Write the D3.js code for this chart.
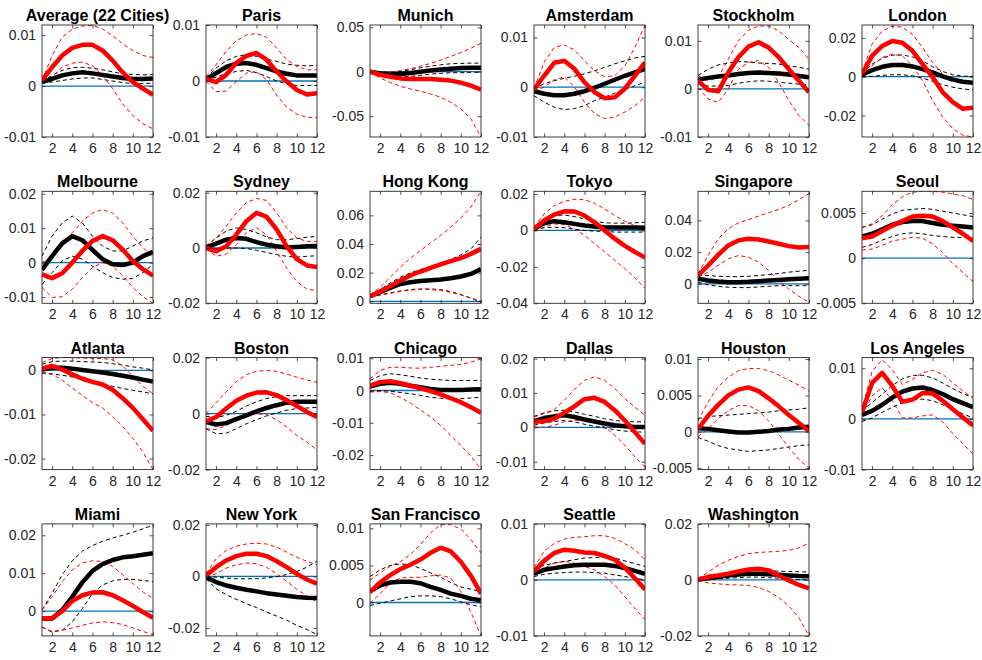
<!DOCTYPE html>
<html>
<head>
<meta charset="utf-8">
<script src="https://cdn.jsdelivr.net/npm/d3@7"></script>
<style>
  html, body { margin: 0; padding: 0; background: #fff; }
  svg { display: block; }
</style>
</head>
<body>
<svg id="chart" width="982" height="660"></svg>
<script>
// Horizons on the x axis
const steps = [1, 2, 3, 4, 5, 6, 7, 8, 9, 10, 11, 12];
const xTicks = [2, 4, 6, 8, 10, 12];

const cities = [
  "Average (22 Cities)", "Paris", "Munich", "Amsterdam", "Stockholm", "London",
  "Melbourne", "Sydney", "Hong Kong", "Tokyo", "Singapore", "Seoul",
  "Atlanta", "Boston", "Chicago", "Dallas", "Houston", "Los Angeles",
  "Miami", "New York", "San Francisco", "Seattle", "Washington"
];

// Black response: point estimate and band
const blackMid = [
  [0.0008,0.0014,0.0021,0.0025,0.0027,0.0025,0.0022,0.0019,0.0016,0.0014,0.0014,0.0015],
  [0.0003,0.0014,0.0025,0.0031,0.0032,0.0029,0.0023,0.0017,0.0013,0.0010,0.0010,0.0010],
  [0,-0.0019,-0.0030,-0.0026,-0.0015,0,0.0015,0.0026,0.0034,0.0041,0.0045,0.0045],
  [-0.0008,-0.0013,-0.0016,-0.0016,-0.0013,-0.0008,-0.0001,0.0007,0.0015,0.0023,0.0030,0.0037],
  [0.0019,0.0023,0.0026,0.0028,0.0031,0.0033,0.0034,0.0033,0.0032,0.0030,0.0027,0.0024],
  [0.0010,0.0034,0.0051,0.0060,0.0060,0.0053,0.0039,0.0022,0.0002,-0.0015,-0.0026,-0.0031],
  [-0.0021,0.0019,0.0056,0.0077,0.0065,0.0037,0.0010,-0.0005,-0.0007,0,0.0019,0.0031],
  [0.0002,0.0016,0.0030,0.0036,0.0033,0.0021,0.0012,0.0006,0.0002,0.0004,0.0006,0.0007],
  [0.0035,0.0063,0.0093,0.0121,0.0133,0.0142,0.0147,0.0152,0.0161,0.0173,0.0191,0.0226],
  [0.0009,0.0040,0.0051,0.0045,0.0036,0.0027,0.0022,0.0018,0.0016,0.0016,0.0016,0.0015],
  [0.0032,0.0021,0.0015,0.0011,0.0011,0.0013,0.0017,0.0021,0.0025,0.0029,0.0032,0.0036],
  [0.0024,0.0027,0.0032,0.0037,0.0040,0.0041,0.0041,0.0039,0.0037,0.0036,0.0035,0.0034],
  [0.0002,0.0006,0.0006,0.0004,0.0001,-0.0002,-0.0005,-0.0008,-0.0012,-0.0016,-0.0021,-0.0025],
  [-0.0030,-0.0039,-0.0034,-0.0020,-0.0006,0.0008,0.0020,0.0030,0.0039,0.0042,0.0042,0.0042],
  [0.0012,0.0021,0.0024,0.0021,0.0015,0.0010,0.0005,0.0002,0.0002,0.0002,0.0003,0.0004],
  [0.0018,0.0027,0.0032,0.0035,0.0030,0.0023,0.0017,0.0011,0.0006,0.0003,0.0001,0.0001],
  [0.0005,0.0004,0.0002,0.00005,-0.0001,-0.0001,0,0.0001,0.0003,0.0004,0.0006,0.0007],
  [0.0008,0.0016,0.0028,0.0042,0.0054,0.0060,0.0062,0.0057,0.0049,0.0039,0.0031,0.0023],
  [-0.0019,-0.0019,0.0003,0.0038,0.0076,0.0106,0.0124,0.0135,0.0142,0.0145,0.0149,0.0153],
  [-0.0003,-0.0022,-0.0035,-0.0044,-0.0052,-0.0058,-0.0065,-0.0070,-0.0075,-0.0080,-0.0083,-0.0084],
  [0.0015,0.0023,0.0027,0.0028,0.0028,0.0026,0.0021,0.0017,0.0012,0.0009,0.0005,0.0003],
  [0.0011,0.0018,0.0021,0.0024,0.0026,0.0027,0.0027,0.0027,0.0025,0.0021,0.0016,0.0011],
  [0.0001,0.0006,0.0011,0.0016,0.0019,0.0022,0.0022,0.0020,0.0018,0.0016,0.0014,0.0013]
];
const blackHi = [
  [0.0008,0.0021,0.0031,0.0036,0.0037,0.0035,0.0032,0.0028,0.0024,0.0023,0.0022,0.0023],
  [0.0005,0.0023,0.0036,0.0044,0.0047,0.0044,0.0039,0.0035,0.0030,0.0028,0.0027,0.0028],
  [0,-0.0004,-0.0004,0.0004,0.0022,0.0045,0.0063,0.0078,0.0090,0.0093,0.0097,0.0097],
  [-0.0003,0.0007,0.0013,0.0018,0.0022,0.0027,0.0033,0.0040,0.0047,0.0053,0.0059,0.0062],
  [0.0028,0.0041,0.0050,0.0054,0.0057,0.0056,0.0054,0.0053,0.0052,0.0048,0.0045,0.0041],
  [0.0014,0.0065,0.0095,0.0111,0.0112,0.0102,0.0082,0.0051,0.0027,0.0010,0.0003,0.0002],
  [0.0019,0.0077,0.0115,0.0135,0.0115,0.0077,0.0048,0.0034,0.0034,0.0048,0.0063,0.0072],
  [0.0006,0.0036,0.0061,0.0073,0.0067,0.0055,0.0040,0.0030,0.0030,0.0034,0.0039,0.0042],
  [0.0040,0.0082,0.0128,0.0168,0.0198,0.0222,0.0243,0.0266,0.0292,0.0324,0.0366,0.0448],
  [0.0018,0.0064,0.0082,0.0085,0.0076,0.0064,0.0051,0.0042,0.0040,0.0040,0.0042,0.0045],
  [0.0053,0.0053,0.0048,0.0046,0.0046,0.0048,0.0053,0.0059,0.0065,0.0074,0.0080,0.0086],
  [0.0034,0.0037,0.0043,0.0049,0.0053,0.0054,0.0055,0.0054,0.0052,0.0050,0.0048,0.0046],
  [0.0014,0.0020,0.0021,0.0021,0.0020,0.0019,0.0018,0.0015,0.0012,0.0008,0.0005,0.0001],
  [-0.0010,-0.0014,-0.0006,0.0008,0.0027,0.0042,0.0054,0.0060,0.0064,0.0064,0.0064,0.0064],
  [0.0031,0.0046,0.0052,0.0049,0.0044,0.0039,0.0035,0.0033,0.0031,0.0031,0.0031,0.0031],
  [0.0032,0.0042,0.0048,0.0050,0.0045,0.0038,0.0032,0.0025,0.0020,0.0017,0.0016,0.0016],
  [0.0018,0.0021,0.0022,0.0023,0.0024,0.0025,0.0026,0.0027,0.0029,0.0030,0.0031,0.0033],
  [0.0016,0.0032,0.0049,0.0066,0.0079,0.0086,0.0086,0.0081,0.0071,0.0060,0.0050,0.0042],
  [0.0003,0.0047,0.0096,0.0133,0.0158,0.0173,0.0184,0.0193,0.0200,0.0208,0.0217,0.0227],
  [0,-0.0003,-0.0006,-0.0009,-0.0009,-0.0009,-0.0006,-0.0001,0.0008,0.0019,0.0036,0.0059],
  [0.0035,0.0044,0.0050,0.0052,0.0051,0.0046,0.0040,0.0034,0.0027,0.0021,0.0018,0.0015],
  [0.0018,0.0026,0.0030,0.0033,0.0036,0.0039,0.0040,0.0040,0.0039,0.0034,0.0029,0.0024],
  [0.0004,0.0012,0.0019,0.0025,0.0030,0.0034,0.0034,0.0034,0.0031,0.0030,0.0029,0.0028]
];
const blackLo = [
  [0.0008,0.0008,0.0011,0.0014,0.0016,0.0016,0.0013,0.0010,0.0007,0.0005,0.0005,0.0006],
  [0.0002,0.0007,0.0013,0.0017,0.0019,0.0015,0.0008,0,-0.0005,-0.0008,-0.0008,-0.0008],
  [0,-0.0034,-0.0056,-0.0060,-0.0052,-0.0041,-0.0026,-0.0019,-0.0011,-0.0011,-0.0007,-0.0007],
  [-0.0017,-0.0030,-0.0040,-0.0045,-0.0043,-0.0037,-0.0027,-0.0020,-0.0012,-0.0005,0.0003,0.0010],
  [0.0010,0.0006,0.0006,0.0007,0.0012,0.0015,0.0017,0.0016,0.0014,0.0012,0.0010,0.0009],
  [0,0.0002,0.0007,0.0010,0.0010,0.0005,-0.0007,-0.0024,-0.0041,-0.0054,-0.0063,-0.0068],
  [-0.0063,-0.0029,0.0005,0.0019,0.0010,-0.0010,-0.0029,-0.0043,-0.0048,-0.0046,-0.0029,-0.0005],
  [0,-0.0002,0,0,-0.0002,-0.0008,-0.0016,-0.0024,-0.0030,-0.0033,-0.0030,-0.0028],
  [0.0028,0.0044,0.0058,0.0072,0.0082,0.0086,0.0086,0.0082,0.0068,0.0047,0.0023,-0.0002],
  [0,0.0015,0.0018,0.0015,0.0007,0,-0.0004,-0.0005,-0.0009,-0.0009,-0.0009,-0.0009],
  [0.0011,-0.0006,-0.0015,-0.0021,-0.0023,-0.0023,-0.0019,-0.0015,-0.0011,-0.0011,-0.0011,-0.0011],
  [0.0012,0.0015,0.0020,0.0024,0.0027,0.0028,0.0027,0.0025,0.0024,0.0023,0.0023,0.0022],
  [-0.0005,-0.0008,-0.0011,-0.0015,-0.0019,-0.0024,-0.0031,-0.0036,-0.0041,-0.0045,-0.0049,-0.0053],
  [-0.0054,-0.0072,-0.0070,-0.0054,-0.0036,-0.0022,-0.0008,0.0002,0.0012,0.0018,0.0020,0.0022],
  [-0.0003,0,-0.0002,-0.0006,-0.0010,-0.0015,-0.0021,-0.0024,-0.0026,-0.0025,-0.0023,-0.0021],
  [0.0006,0.0013,0.0017,0.0020,0.0016,0.0009,0.0003,-0.0002,-0.0007,-0.0011,-0.0013,-0.0014],
  [-0.0008,-0.0013,-0.0019,-0.0023,-0.0025,-0.0027,-0.0026,-0.0025,-0.0023,-0.0021,-0.0019,-0.0018],
  [-0.0005,0.0002,0.0013,0.0023,0.0032,0.0038,0.0039,0.0036,0.0028,0.0018,0.0010,0.0002],
  [-0.0042,-0.0055,-0.0050,-0.0028,0.0007,0.0047,0.0069,0.0080,0.0084,0.0084,0.0081,0.0078],
  [-0.0009,-0.0048,-0.0071,-0.0089,-0.0106,-0.0121,-0.0138,-0.0154,-0.0170,-0.0190,-0.0206,-0.0226],
  [-0.0004,-0.0001,0.0002,0.0005,0.0008,0.0009,0.0009,0.0008,0.0005,0.0001,-0.0003,-0.0006],
  [0.0006,0.0010,0.0012,0.0013,0.0014,0.0014,0.0013,0.0012,0.0009,0.0006,0.0003,0],
  [-0.0002,0.0001,0.0004,0.0006,0.0008,0.0010,0.0010,0.0008,0.0006,0.0004,0.0001,0]
];

// Red response: point estimate and band
const redMid = [
  [0.0011,0.0037,0.0060,0.0075,0.0081,0.0081,0.0070,0.0050,0.0027,0.0008,-0.0005,-0.0017],
  [0.0004,-0.0002,0.0011,0.0032,0.0045,0.0050,0.0038,0.0017,-0.0001,-0.0016,-0.0024,-0.0022],
  [0,-0.0034,-0.0056,-0.0075,-0.0082,-0.0082,-0.0082,-0.0090,-0.0100,-0.0123,-0.0157,-0.0201],
  [-0.0005,0.0023,0.0049,0.0053,0.0037,0.0010,-0.0010,-0.0022,-0.0020,-0.0003,0.0023,0.0050],
  [0.0017,-0.0002,-0.0005,0.0034,0.0066,0.0088,0.0097,0.0086,0.0066,0.0041,0.0017,-0.0007],
  [0.0014,0.0107,0.0158,0.0184,0.0175,0.0133,0.0065,-0.0003,-0.0080,-0.0131,-0.0165,-0.0160],
  [-0.0034,-0.0045,-0.0031,0,0.0034,0.0063,0.0077,0.0065,0.0038,0.0005,-0.0019,-0.0038],
  [0,-0.0012,0.0006,0.0048,0.0097,0.0127,0.0113,0.0067,0.0006,-0.0040,-0.0063,-0.0069],
  [0.0035,0.0068,0.0105,0.0145,0.0180,0.0208,0.0233,0.0257,0.0280,0.0301,0.0331,0.0366],
  [0.0009,0.0055,0.0087,0.0105,0.0104,0.0082,0.0045,0,-0.0045,-0.0085,-0.0118,-0.0149],
  [0.0053,0.0116,0.0183,0.0242,0.0274,0.0284,0.0280,0.0267,0.0253,0.0238,0.0229,0.0232],
  [0.0022,0.0024,0.0030,0.0036,0.0041,0.0046,0.0047,0.0046,0.0041,0.0034,0.0027,0.0019],
  [0.0004,0.0010,0.0002,-0.0009,-0.0019,-0.0026,-0.0032,-0.0044,-0.0063,-0.0085,-0.0111,-0.0137],
  [-0.0028,-0.0012,0.0018,0.0046,0.0064,0.0075,0.0076,0.0066,0.0048,0.0027,0.0006,-0.0012],
  [0.0015,0.0026,0.0029,0.0023,0.0015,0.0007,-0.0002,-0.0012,-0.0024,-0.0036,-0.0052,-0.0069],
  [0.0016,0.0018,0.0025,0.0042,0.0061,0.0082,0.0086,0.0074,0.0050,0.0020,-0.0014,-0.0048],
  [0.0004,0.0022,0.0037,0.0050,0.0058,0.0061,0.0056,0.0046,0.0035,0.0023,0.0012,0.0001],
  [0.0013,0.0071,0.0091,0.0065,0.0034,0.0038,0.0051,0.0050,0.0036,0.0019,0.0003,-0.0013],
  [-0.0019,-0.0019,0,0.0027,0.0042,0.0049,0.0050,0.0042,0.0029,0.0014,-0.0002,-0.0017],
  [0.0004,0.0036,0.0062,0.0079,0.0088,0.0088,0.0079,0.0059,0.0036,0.0010,-0.0012,-0.0028],
  [0.0014,0.0027,0.0037,0.0045,0.0051,0.0058,0.0067,0.0074,0.0069,0.0055,0.0036,0.0012],
  [0.0015,0.0034,0.0048,0.0054,0.0052,0.0049,0.0048,0.0043,0.0036,0.0022,0.0003,-0.0017],
  [0.0001,0.0011,0.0016,0.0022,0.0030,0.0037,0.0040,0.0034,0.0016,-0.0002,-0.0018,-0.0030]
];
const redHi = [
  [0.0011,0.0060,0.0096,0.0112,0.0118,0.0119,0.0112,0.0099,0.0083,0.0070,0.0060,0.0056],
  [0.0008,0.0029,0.0053,0.0072,0.0082,0.0085,0.0078,0.0059,0.0038,0.0026,0.0020,0.0020],
  [0,-0.0007,0,0.0011,0.0034,0.0063,0.0093,0.0130,0.0172,0.0216,0.0265,0.0320],
  [-0.0003,0.0050,0.0080,0.0085,0.0075,0.0053,0.0033,0.0021,0.0023,0.0043,0.0080,0.0125],
  [0.0028,0.0017,0.0024,0.0062,0.0100,0.0122,0.0131,0.0131,0.0121,0.0103,0.0086,0.0062],
  [0.0022,0.0167,0.0235,0.0260,0.0255,0.0218,0.0150,0.0073,0.0014,-0.0020,-0.0034,-0.0034],
  [0,0.0014,0.0048,0.0087,0.0120,0.0144,0.0154,0.0144,0.0115,0.0077,0.0043,0.0019],
  [0.0006,0.0036,0.0079,0.0127,0.0164,0.0179,0.0172,0.0127,0.0073,0.0036,0.0024,0.0024],
  [0.0040,0.0098,0.0168,0.0238,0.0301,0.0355,0.0408,0.0460,0.0518,0.0581,0.0658,0.0768],
  [0.0018,0.0091,0.0136,0.0160,0.0171,0.0169,0.0149,0.0118,0.0082,0.0051,0.0027,0.0015],
  [0.0063,0.0179,0.0284,0.0347,0.0385,0.0404,0.0427,0.0448,0.0469,0.0495,0.0531,0.0568],
  [0.0034,0.0038,0.0047,0.0059,0.0068,0.0073,0.0074,0.0074,0.0073,0.0071,0.0069,0.0065],
  [0.0018,0.0027,0.0029,0.0029,0.0028,0.0027,0.0027,0.0024,0.0010,-0.0013,-0.0036,-0.0053],
  [0,0.0039,0.0078,0.0114,0.0139,0.0151,0.0154,0.0151,0.0141,0.0130,0.0120,0.0112],
  [0.0036,0.0062,0.0072,0.0072,0.0070,0.0069,0.0072,0.0075,0.0078,0.0081,0.0088,0.0098],
  [0.0030,0.0040,0.0052,0.0079,0.0110,0.0137,0.0147,0.0137,0.0113,0.0083,0.0059,0.0035],
  [0.0015,0.0041,0.0062,0.0075,0.0084,0.0087,0.0087,0.0084,0.0078,0.0071,0.0064,0.0056],
  [0.0018,0.0094,0.0117,0.0097,0.0068,0.0078,0.0091,0.0096,0.0088,0.0071,0.0055,0.0042],
  [0.0003,0.0038,0.0078,0.0109,0.0127,0.0133,0.0131,0.0118,0.0096,0.0073,0.0051,0.0034],
  [0.0010,0.0068,0.0101,0.0117,0.0126,0.0129,0.0126,0.0114,0.0094,0.0075,0.0058,0.0045],
  [0.0030,0.0040,0.0049,0.0055,0.0065,0.0078,0.0094,0.0105,0.0105,0.0099,0.0085,0.0067],
  [0.0022,0.0051,0.0065,0.0073,0.0076,0.0077,0.0079,0.0079,0.0074,0.0065,0.0054,0.0036],
  [0.0004,0.0028,0.0052,0.0070,0.0084,0.0094,0.0098,0.0100,0.0102,0.0106,0.0114,0.0133]
];
const redLo = [
  [0.0011,0.0018,0.0037,0.0045,0.0047,0.0040,0.0021,-0.0005,-0.0035,-0.0058,-0.0074,-0.0084],
  [-0.0001,-0.0019,-0.0018,-0.0001,0.0014,0.0017,0.0002,-0.0025,-0.0047,-0.0059,-0.0065,-0.0065],
  [0,-0.0071,-0.0120,-0.0164,-0.0194,-0.0220,-0.0250,-0.0287,-0.0343,-0.0418,-0.0530,-0.0735],
  [-0.0008,0,0.0015,0.0021,0.0001,-0.0030,-0.0053,-0.0063,-0.0060,-0.0050,-0.0037,-0.0020],
  [0.0003,-0.0021,-0.0028,0,0.0041,0.0055,0.0059,0.0045,0.0014,-0.0024,-0.0055,-0.0076],
  [0,0.0056,0.0099,0.0116,0.0107,0.0056,-0.0020,-0.0123,-0.0208,-0.0267,-0.0301,-0.0310],
  [-0.0072,-0.0101,-0.0099,-0.0077,-0.0043,-0.0014,0,-0.0010,-0.0038,-0.0072,-0.0099,-0.0118],
  [-0.0004,-0.0030,-0.0022,0.0012,0.0055,0.0073,0.0048,-0.0012,-0.0073,-0.0121,-0.0149,-0.0154],
  [0.0028,0.0044,0.0056,0.0068,0.0079,0.0082,0.0082,0.0075,0.0063,0.0044,0.0021,-0.0007],
  [0,0.0018,0.0036,0.0033,0.0009,-0.0027,-0.0073,-0.0118,-0.0164,-0.0209,-0.0260,-0.0318],
  [0.0042,0.0074,0.0116,0.0158,0.0179,0.0168,0.0137,0.0084,0.0021,-0.0032,-0.0078,-0.0116],
  [0.0009,0.0010,0.0014,0.0019,0.0021,0.0023,0.0022,0.0016,0.0006,-0.0006,-0.0016,-0.0026],
  [-0.0007,-0.0009,-0.0022,-0.0040,-0.0057,-0.0073,-0.0085,-0.0105,-0.0127,-0.0154,-0.0185,-0.0225],
  [-0.0054,-0.0057,-0.0042,-0.0022,-0.0006,0,-0.0004,-0.0022,-0.0048,-0.0078,-0.0102,-0.0130],
  [-0.0005,-0.0003,-0.0007,-0.0021,-0.0039,-0.0060,-0.0082,-0.0108,-0.0139,-0.0170,-0.0204,-0.0245],
  [0.0001,0,0.0006,0.0016,0.0020,0.0022,0.0016,0.0001,-0.0023,-0.0052,-0.0086,-0.0116],
  [-0.0007,0.0004,0.0018,0.0029,0.0036,0.0036,0.0029,0.0015,-0.0003,-0.0022,-0.0038,-0.0050],
  [0.0008,0.0045,0.0062,0.0036,0.0002,0.0002,0.0006,0.0008,-0.0006,-0.0029,-0.0049,-0.0069],
  [-0.0042,-0.0053,-0.0050,-0.0044,-0.0037,-0.0031,-0.0028,-0.0030,-0.0035,-0.0044,-0.0053,-0.0062],
  [0,0.0010,0.0032,0.0045,0.0052,0.0049,0.0036,0.0010,-0.0019,-0.0050,-0.0076,-0.0099],
  [-0.0001,0.0012,0.0026,0.0033,0.0034,0.0034,0.0036,0.0037,0.0033,0.0015,-0.0013,-0.0045],
  [0.0009,0.0021,0.0030,0.0033,0.0030,0.0024,0.0018,0.0006,-0.0009,-0.0030,-0.0051,-0.0071],
  [-0.0002,-0.0011,-0.0014,-0.0017,-0.0018,-0.0020,-0.0027,-0.0041,-0.0063,-0.0093,-0.0135,-0.0201]
];

// Y axis limits and ticks for each panel
const yLims = [
  [-0.01, 0.012], [-0.01, 0.01], [-0.0735, 0.0526], [-0.01, 0.0125], [-0.01, 0.0133], [-0.031, 0.0266],
  [-0.0118, 0.0207], [-0.02, 0.0205], [-0.0014, 0.0768], [-0.04, 0.0215], [-0.0122, 0.0583], [-0.005, 0.0074],
  [-0.0225, 0.0029], [-0.02, 0.02], [-0.0245, 0.0102], [-0.0123, 0.0203], [-0.0052, 0.0102], [-0.01, 0.0121],
  [-0.0065, 0.023], [-0.0231, 0.0204], [-0.0045, 0.0106], [-0.01, 0.01], [-0.02, 0.02]
];
const yTicks = [
  [-0.01, 0, 0.01], [-0.01, 0, 0.01], [-0.05, 0, 0.05], [-0.01, 0, 0.01], [-0.01, 0, 0.01], [-0.02, 0, 0.02],
  [-0.01, 0, 0.01, 0.02], [-0.02, 0, 0.02], [0, 0.02, 0.04, 0.06], [-0.04, -0.02, 0, 0.02], [0, 0.02, 0.04], [-0.005, 0, 0.005],
  [-0.02, -0.01, 0], [-0.02, 0, 0.02], [-0.02, -0.01, 0, 0.01], [-0.01, 0, 0.01, 0.02], [-0.005, 0, 0.005, 0.01], [-0.01, 0, 0.01],
  [0, 0.01, 0.02], [-0.02, 0, 0.02], [0, 0.005, 0.01], [-0.01, 0, 0.01], [-0.02, 0, 0.02]
];

// Grid layout: 4 rows x 6 columns
const nCols = 6;
const colX0 = 42, colStep = 164, plotW = 111;
const rowY0 = 25, rowStep = 166.3, plotH = 112;

const axisColor = "#262626";
const fontFamily = "'Liberation Sans', Arial, Helvetica, sans-serif";
const fmt = v => String(+v.toFixed(4));

const svg = d3.select("#chart");
const defs = svg.append("defs");

cities.forEach((name, i) => {
  const c = i % nCols, r = Math.floor(i / nCols);
  const left = colX0 + c * colStep;
  const top = rowY0 + r * rowStep;

  const x = d3.scaleLinear().domain([1, 12]).range([0, plotW]);
  const y = d3.scaleLinear().domain(yLims[i]).range([plotH, 0]);

  const g = svg.append("g").attr("transform", `translate(${left},${top})`);

  defs.append("clipPath").attr("id", "clip" + i)
    .append("rect").attr("x", 0).attr("y", 0).attr("width", plotW).attr("height", plotH);

  const plot = g.append("g").attr("clip-path", `url(#clip${i})`);
  const line = d3.line().x((d, k) => x(steps[k])).y(d => y(d));

  // zero reference line
  plot.append("path")
    .datum(steps.map(() => 0))
    .attr("d", line)
    .attr("fill", "none").attr("stroke", "#0072BD").attr("stroke-width", 1.3);

  const dashed = (vals, color) => plot.append("path")
    .datum(vals).attr("d", line)
    .attr("fill", "none").attr("stroke", color)
    .attr("stroke-width", 1).attr("stroke-dasharray", "4,3");
  const solid = (vals, color) => plot.append("path")
    .datum(vals).attr("d", line)
    .attr("fill", "none").attr("stroke", color)
    .attr("stroke-width", 4.5).attr("stroke-linejoin", "round");

  dashed(blackHi[i], "#000");
  dashed(blackLo[i], "#000");
  dashed(redHi[i], "#ff0000");
  dashed(redLo[i], "#ff0000");
  solid(blackMid[i], "#000");
  solid(redMid[i], "#ff0000");

  // axes: ticks inward on all four sides
  const tl = 3.5;
  const bottomAxis = d3.axisBottom(x).tickValues(xTicks).tickSizeInner(-tl).tickSizeOuter(0).tickPadding(6);
  const topAxis = d3.axisTop(x).tickValues(xTicks).tickSizeInner(-tl).tickSizeOuter(0).tickFormat("");
  const leftAxis = d3.axisLeft(y).tickValues(yTicks[i]).tickSizeInner(-tl).tickSizeOuter(0).tickPadding(6).tickFormat(fmt);
  const rightAxis = d3.axisRight(y).tickValues(yTicks[i]).tickSizeInner(-tl).tickSizeOuter(0).tickFormat("");

  const styleAxis = sel => {
    sel.select(".domain").remove();
    sel.selectAll("line").attr("stroke", axisColor).attr("stroke-width", 0.8);
    sel.selectAll("text").attr("fill", axisColor)
      .style("font-family", fontFamily).style("font-size", "14px");
  };

  g.append("g").attr("transform", `translate(0,${plotH})`).call(bottomAxis).call(styleAxis);
  g.append("g").call(topAxis).call(styleAxis);
  g.append("g").call(leftAxis).call(styleAxis);
  g.append("g").attr("transform", `translate(${plotW},0)`).call(rightAxis).call(styleAxis);

  // box
  g.append("rect").attr("x", 0).attr("y", 0).attr("width", plotW).attr("height", plotH)
    .attr("fill", "none").attr("stroke", axisColor).attr("stroke-width", 0.9);

  // title
  g.append("text")
    .attr("x", plotW / 2).attr("y", -4)
    .attr("text-anchor", "middle")
    .style("font-family", fontFamily).style("font-size", "16px").style("font-weight", "bold")
    .attr("fill", "#000")
    .text(name);
});
</script>
</body>
</html>
